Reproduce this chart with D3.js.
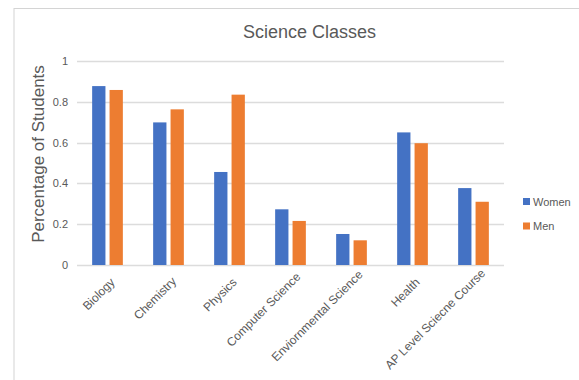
<!DOCTYPE html>
<html>
<head>
<meta charset="utf-8">
<script src="https://cdn.jsdelivr.net/npm/d3@7"></script>
<style>
  body { margin: 0; background: #fff; }
  svg text { font-family: "Liberation Sans", Arial, sans-serif; fill: #595959; }
</style>
</head>
<body>
<div id="chart"></div>
<script>
// chart data
const categories = ['Biology', 'Chemistry', 'Physics', 'Computer Science',
  'Enviornmental Science', 'Health', 'AP Level Sciecne Course'];
const seriesNames = ['Women', 'Men'];
const women = [0.877, 0.699, 0.456, 0.273, 0.152, 0.650, 0.377];
const men = [0.858, 0.763, 0.835, 0.216, 0.121, 0.597, 0.310];
const yTicks = [0, 0.2, 0.4, 0.6, 0.8, 1];
const colors = ['#4472C4', '#ED7D31'];

let width = 579;
let height = 380;
let margin = { left: 77, right: 75, top: 61, bottom: 115 };

let svg = d3.select('#chart').append('svg')
  .attr('width', width)
  .attr('height', height);

// outer frame (cut off on the right and bottom)
svg.append('rect')
  .attr('x', 14)
  .attr('y', 8.5)
  .attr('width', 700)
  .attr('height', 500)
  .attr('fill', 'none')
  .attr('stroke', '#d4d4d4');

let x = d3.scaleBand()
  .domain(categories)
  .range([margin.left, width - margin.right]);

let groupW = 30.7;
let x1 = d3.scaleBand()
  .domain(seriesNames)
  .range([0, groupW])
  .paddingInner(0.236);

let y = d3.scaleLinear()
  .domain([0, 1])
  .range([height - margin.bottom, margin.top]);

// gridlines
svg.append('g')
  .selectAll('line')
  .data(yTicks)
  .join('line')
  .attr('x1', margin.left)
  .attr('x2', width - margin.right)
  .attr('y1', d => Math.round(y(d)) + 0.5)
  .attr('y2', d => Math.round(y(d)) + 0.5)
  .attr('stroke', '#dcdcdc')
  .attr('stroke-width', 1.3);

// y axis labels
let yAxis = svg.append('g')
  .attr('transform', 'translate(' + margin.left + ',0)')
  .call(d3.axisLeft(y).tickValues(yTicks).tickSize(0).tickPadding(9).tickFormat(d3.format('')));
yAxis.select('.domain').remove();
yAxis.selectAll('text').style('font-size', '11px');

// bars
let series = [women, men];
let groups = svg.append('g')
  .selectAll('g')
  .data(categories)
  .join('g')
  .attr('transform', d => 'translate(' + (x(d) + x.bandwidth() / 2 - groupW / 2) + ',0)');

groups.selectAll('rect')
  .data((d, i) => seriesNames.map((s, k) => ({ s: s, v: series[k][i] })))
  .join('rect')
  .attr('x', d => x1(d.s))
  .attr('y', d => y(d.v))
  .attr('width', x1.bandwidth())
  .attr('height', d => y(0) - y(d.v))
  .attr('fill', (d, k) => colors[k]);

// x axis labels, rotated; long labels sit a bit higher
let xAxis = svg.append('g')
  .attr('transform', 'translate(0,' + (height - margin.bottom) + ')')
  .call(d3.axisBottom(x).tickSize(0).tickPadding(0));
xAxis.select('.domain').remove();
xAxis.selectAll('text')
  .style('font-size', '12px')
  .attr('text-anchor', 'end')
  .attr('dy', 0)
  .attr('transform', function () {
    let extra = Math.max(0, this.getComputedTextLength() - 45);
    return 'translate(' + (8 + extra * 0.05) + ',' + (18 - extra * 0.1) + ') rotate(-45)';
  });

// title
svg.append('text')
  .attr('x', 309.5)
  .attr('y', 38)
  .attr('text-anchor', 'middle')
  .style('font-size', '18px')
  .text('Science Classes');

// y axis title
svg.append('text')
  .attr('transform', 'translate(43.5,154) rotate(-90)')
  .attr('text-anchor', 'middle')
  .style('font-size', '17px')
  .text('Percentage of Students');

// legend
let legend = svg.append('g')
  .selectAll('g')
  .data(seriesNames)
  .join('g')
  .attr('transform', (d, i) => 'translate(523,' + (198 + i * 24.5) + ')');

legend.append('rect')
  .attr('width', 7)
  .attr('height', 7)
  .attr('fill', (d, i) => colors[i]);

legend.append('text')
  .attr('x', 10)
  .attr('y', 7.5)
  .style('font-size', '11px')
  .text(d => d);
</script>
</body>
</html>
